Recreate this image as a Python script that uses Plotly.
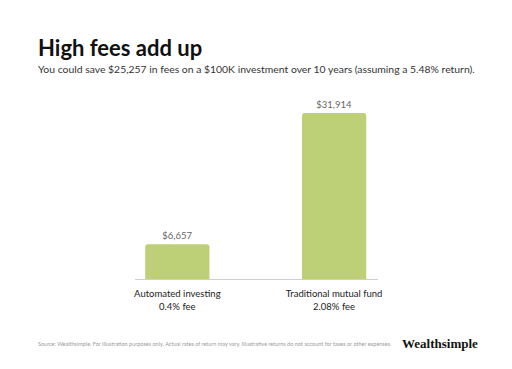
import plotly.graph_objects as go

categories = ["Automated investing<br>0.4% fee", "Traditional mutual fund<br>2.08% fee"]
values = [6657, 31914]
value_labels = ["$6,657", "$31,914"]

OFF = 8  # page body margin
W, H = 512 - OFF, 369 - OFF
L, R, T, B = 135 - OFF, 134, 100 - OFF, 90
PW, PH = W - L - R, H - T - B

fig = go.Figure(go.Bar(
    x=categories, y=values, text=value_labels, textposition="outside",
    textfont=dict(size=9.5, color="#666666", family="Lato"),
    marker=dict(color="#bdd077", line=dict(width=0)),
    width=0.41, cliponaxis=False, hoverinfo="skip",
))

fig.update_layout(
    width=W, height=H, margin=dict(l=L, r=R, t=T, b=B),
    paper_bgcolor="white", plot_bgcolor="white",
    barcornerradius=3, showlegend=False,
    font=dict(family="Lato", color="#222222"),
    xaxis=dict(range=[-0.27, 1.28], showgrid=False, showline=True,
               linecolor="#cfcfcf", linewidth=1, ticks="",
               tickfont=dict(size=9.5, color="#222222", family="Lato"),
               ticklabelstandoff=6),
    yaxis=dict(range=[0, 34414], visible=False, showgrid=False),
)


def px_to_paper(xw, yw):
    xf, yf = xw - OFF, yw - OFF
    return (xf - L) / PW, ((H - yf) - B) / PH


annos = [
    dict(text="<b>High fees add up</b>", x=36, y=47, size=22, color="#111111", fam="Lato"),
    dict(text="You could save $25,257 in fees on a $100K investment over 10 years (assuming a 5.48% return).",
         x=36, y=69, size=10.4, color="#333333", fam="Lato"),
    dict(text="Source: Wealthsimple. For illustration purposes only. Actual rates of return may vary. Illustrative returns do not account for taxes or other expenses.",
         x=36, y=344, size=5.5, color="#9a9a9a", fam="Lato"),
    dict(text="<b>Wealthsimple</b>", x=400, y=343, size=13, color="#111111", fam="Liberation Serif"),
]
for a in annos:
    px, py = px_to_paper(a["x"], a["y"])
    fig.add_annotation(
        text=a["text"], xref="paper", yref="paper", x=px, y=py,
        xanchor="left", yanchor="middle", showarrow=False,
        font=dict(size=a["size"], color=a["color"], family=a["fam"]),
    )

fig.write_html("out.html")
